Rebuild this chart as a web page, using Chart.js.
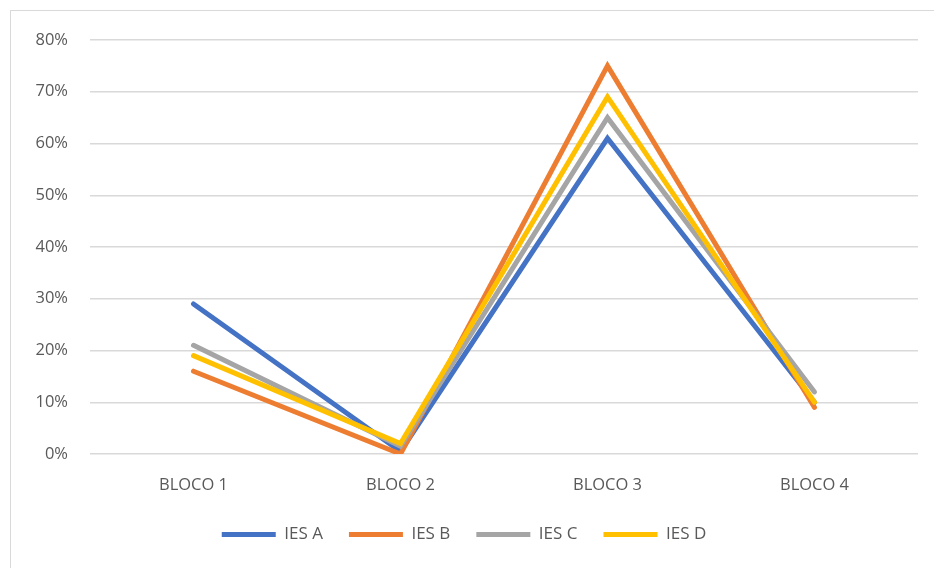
<!DOCTYPE html>
<html><head><meta charset="utf-8">
<script src="https://cdn.jsdelivr.net/npm/chart.js@4/dist/chart.umd.min.js"></script>
<style>
html,body{margin:0;padding:0;background:#fff;width:934px;height:568px;overflow:hidden}
#frame{position:absolute;left:10px;top:10px;width:940px;height:570px;border:1px solid #d9d9d9;box-sizing:border-box}
#wrap{position:absolute;left:0;top:0;width:934px;height:568px}
</style></head>
<body>
<div id="frame"></div>
<div id="wrap"><canvas id="c" width="934" height="568"></canvas></div>
<script>
const categories = ["BLOCO 1","BLOCO 2","BLOCO 3","BLOCO 4"];
const iesA = [29, 0.5, 61, 10];
const iesB = [16, 0, 75, 9];
const iesC = [21, 1.5, 65, 12];
const iesD = [19, 2, 69, 10];
const seriesNames = ["IES A","IES B","IES C","IES D"];
const yTicks = [0,10,20,30,40,50,60,70,80];

const colors = ["#4472C4","#ED7D31","#A5A5A5","#FFC000"];
const data = [iesA,iesB,iesC,iesD];
const FONT = "'Open Sans', 'Liberation Sans', sans-serif";

new Chart(document.getElementById('c'), {
  type: 'line',
  data: {
    labels: categories,
    datasets: seriesNames.map((n,i)=>({
      label: n, data: data[i], borderColor: colors[i], backgroundColor: colors[i],
      borderWidth: 5, pointRadius: 0, tension: 0, fill: false,
      borderCapStyle: 'round', borderJoinStyle: 'miter', order: 4-i
    }))
  },
  options: {
    responsive: false, animation: false,
    layout: { padding: { left: 10, right: 16, top: 40, bottom: 15 } },
    plugins: {
      tooltip: { enabled: false },
      legend: {
        position: 'bottom',
        labels: {
          font: { family: FONT, size: 17 }, color: '#595959',
          boxWidth: 54, boxHeight: 5, padding: 26,
          generateLabels: (chart) => seriesNames.map((n,i)=>({
            text: n, fillStyle: colors[i], strokeStyle: colors[i], lineWidth: 0,
            fontColor: '#595959', datasetIndex: i, hidden: false
          }))
        }
      }
    },
    scales: {
      x: {
        offset: true,
        grid: { display: false, drawTicks: false },
        border: { display: false },
        ticks: { font: { family: FONT, size: 16.5 }, color: '#595959', padding: 21 },
        afterFit: (s) => { s.height = 46; }
      },
      y: {
        min: 0, max: 80,
        afterBuildTicks: (s) => { s.ticks = yTicks.map(v=>({value:v})); },
        afterFit: (s) => { s.width = 80; },
        grid: { color: '#d9d9d9', lineWidth: 1.5, drawTicks: false },
        border: { display: false },
        ticks: { font: { family: FONT, size: 16.5 }, color: '#595959', padding: 22,
          callback: v => v + '%' }
      }
    }
  }
});
</script>
</body></html>
